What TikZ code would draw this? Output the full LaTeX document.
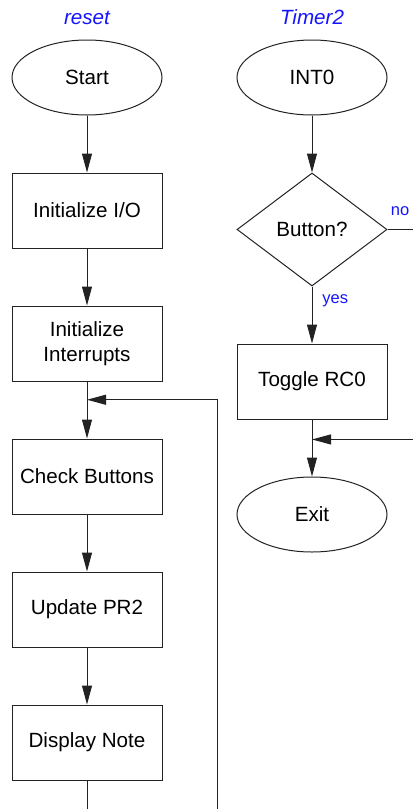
\documentclass[tikz,border=0pt]{standalone}
\usepackage{fontspec}
\setmainfont{Liberation Sans}
\usepackage{xcolor}
\usetikzlibrary{arrows.meta,positioning,calc,shapes.geometric}
\definecolor{labelblue}{HTML}{1414FF}
\definecolor{ink}{HTML}{222222}

\begin{document}
\begin{tikzpicture}[
  node distance=28.5pt and 37pt,
  every node/.style={font=\fontsize{10.3}{12.8}\selectfont},
  box/.style={draw=ink, line width=0.5pt, align=center, minimum width=75pt, minimum height=37.5pt, inner sep=2pt},
  term/.style={ellipse, draw=ink, line width=0.5pt, minimum width=75pt, minimum height=37.5pt, inner sep=1pt},
  decide/.style={diamond, aspect=1.33, draw=ink, line width=0.5pt, minimum width=75pt, minimum height=56.5pt, inner sep=1pt},
  title/.style={text=labelblue, font=\fontsize{10.3}{12.8}\selectfont\itshape, inner sep=0pt, text height=7.5pt, text depth=0pt},
  branch/.style={text=labelblue, font=\fontsize{8.25}{10}\selectfont, inner sep=0pt},
  arrow/.style={-{Triangle[length=9.5pt,width=5pt]}, line width=0.5pt, draw=ink},
  wire/.style={line width=0.5pt, draw=ink}
]
\path[use as bounding box] (0,0) coordinate (topleft) rectangle (206.5pt,-404.5pt) coordinate (botright);

% main program
\node[term] (start) at (43.5pt,-38.75pt) {Start};
\node[box, below=of start] (initio) {Initialize I/O};
\node[box, below=of initio] (initint) {Initialize\\Interrupts};
\node[box, below=of initint] (check) {Check Buttons};
\node[box, below=of check] (update) {Update PR2};
\node[box, below=of update] (display) {Display Note};

% interrupt routine
\node[term, right=of start] (int0) {INT0};
\node[decide, below=of int0] (button) {Button?};
\node[box, below=of button] (toggle) {Toggle RC0};
\node[term, below=of toggle] (exit) {Exit};

\node[title, above=7.5pt of start] (resetlbl) {reset};
\node[title, above=7.5pt of int0] (timerlbl) {Timer2};
\node[branch, above right=6.5pt and 1.5pt of button.east] (nolbl) {no};
\node[branch, anchor=base west] (yeslbl) at ($(button.south)+(5pt,-8.5pt)$) {yes};

\coordinate (joinL) at ($(initint.south)!0.32!(check.north)$);
\coordinate (loopout) at (display.south |- botright);
\coordinate[right=65pt of loopout] (loopback);
\coordinate (noout) at (button.east -| botright);
\coordinate (joinR) at ($(toggle.south)!0.35!(exit.north)$);
\coordinate (backin) at (joinR -| botright);

\draw[arrow] (start) -- (initio);
\draw[arrow] (initio) -- (initint);
\draw[wire] (initint) -- (joinL);
\draw[arrow] (joinL) -- (check);
\draw[arrow] (check) -- (update);
\draw[arrow] (update) -- (display);
\draw[wire] (display) -- (loopout);
\draw[arrow] (loopback) |- (joinL);

\draw[arrow] (int0) -- (button);
\draw[wire] (button) -- (noout);
\draw[arrow] (button) -- (toggle);
\draw[wire] (toggle) -- (joinR);
\draw[arrow] (joinR) -- (exit);
\draw[arrow] (backin) -- (joinR);
\end{tikzpicture}
\end{document}
